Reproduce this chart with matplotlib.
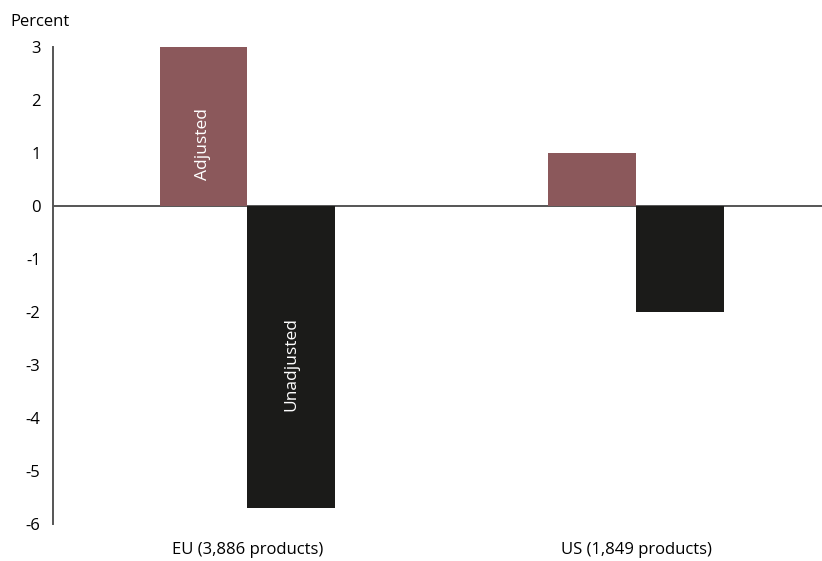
import matplotlib.pyplot as plt
import numpy as np

plt.rcParams['font.family'] = ['Open Sans', 'DejaVu Sans']

categories = ['EU (3,886 products)', 'US (1,849 products)']
adjusted = [3.0, 1.0]
unadjusted = [-5.7, -2.0]
yticks = [3, 2, 1, 0, -1, -2, -3, -4, -5, -6]

col_adj = '#8b585b'
col_unadj = '#1b1b19'

fig = plt.figure(figsize=(8.22, 5.61), dpi=100)
ax = fig.add_axes([0.0645, 0.066, 0.9355, 0.85])

x = np.arange(len(categories))
w = 0.226
ax.bar(x - w / 2, adjusted, w, color=col_adj, zorder=3)
ax.bar(x + w / 2, unadjusted, w, color=col_unadj, zorder=3)
ax.axhline(0, color='#555555', lw=1.4, zorder=2)

# labels inside the EU bars
ax.text(x[0] - w / 2, 1.18, 'Adjusted', rotation=90, color='white',
        ha='center', va='center', fontsize=12.5)
ax.text(x[0] + w / 2, -2.99, 'Unadjusted', rotation=90, color='white',
        ha='center', va='center', fontsize=12.5)

ax.set_xlim(-0.5, 1.478)
ax.set_ylim(-6, 3)
ax.set_yticks(yticks)
ax.set_yticklabels([str(t) for t in yticks], fontsize=12)
ax.set_xticks(x)
ax.set_xticklabels(categories, fontsize=12)
ax.tick_params(axis='y', length=0, pad=9)
ax.tick_params(axis='x', length=0, pad=13)

for s in ['top', 'right', 'bottom']:
    ax.spines[s].set_visible(False)
ax.spines['left'].set_color('#555555')
ax.spines['left'].set_linewidth(1.4)

fig.text(0.013, 0.96, 'Percent', fontsize=12, va='center')

fig.savefig('out.png', dpi=100)
